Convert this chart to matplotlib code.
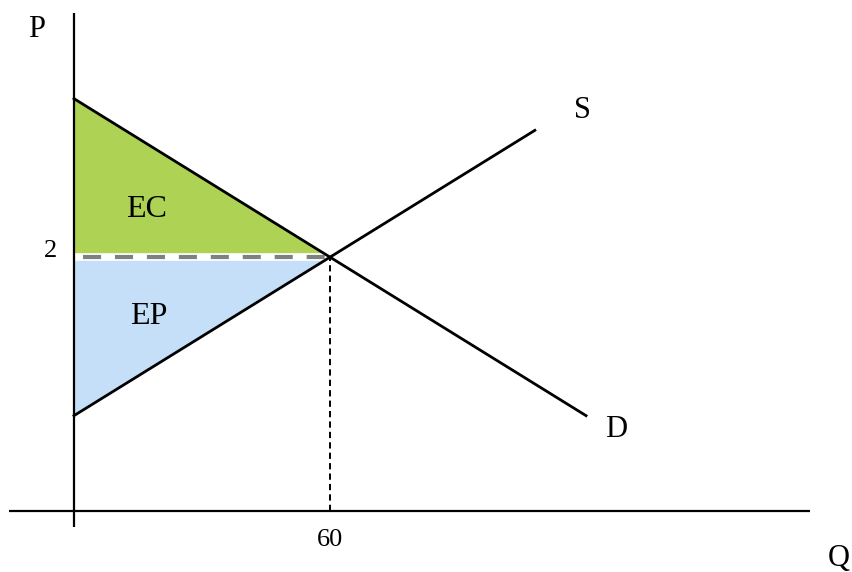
import matplotlib
matplotlib.use("Agg")
import matplotlib.pyplot as plt

plt.rcParams['font.family'] = ['Liberation Serif', 'DejaVu Serif']
plt.rcParams['lines.scale_dashes'] = False

# Data
demand_q = [0, 60, 120]
demand_p = [3.25, 2.0, 0.75]
supply_q = [0, 60, 108]
supply_p = [0.75, 2.0, 3.0]
eq_q = 60
eq_p = 2.0
tick_q_label = "60"
tick_p_label = "2"

fig = plt.figure(figsize=(8.53, 5.72), dpi=100)
ax = fig.add_axes([0, 0, 1, 1])
ax.set_xlim(-17.34, 182.56)
ax.set_ylim(-0.483, 4.028)
ax.axis('off')

# Axes lines
ax.plot([-15.2, 172.5], [0, 0], color='black', lw=1.6, solid_capstyle='butt', zorder=3)
ax.plot([0, 0], [-0.129, 3.925], color='black', lw=1.6, solid_capstyle='butt', zorder=3)

# Surplus areas
ax.fill([0, eq_q, 0], [demand_p[0], eq_p, eq_p], color='#AED354', lw=0, zorder=1)
ax.fill([0, eq_q, 0], [supply_p[0], eq_p, eq_p], color='#C6DFF8', lw=0, zorder=1)

# White gap and gray dashed price line
ax.plot([0, eq_q], [eq_p, eq_p], color='white', lw=5.5, solid_capstyle='butt', zorder=2)
ax.plot([0, eq_q], [eq_p, eq_p], color='#808080', lw=3, linestyle=(16.5, (13, 10)),
        solid_capstyle='butt', dash_capstyle='butt', zorder=2)

# Vertical dashed line
ax.plot([eq_q, eq_q], [0, eq_p], color='black', lw=1.4, dashes=(4.5, 3), zorder=2)

# Demand and supply
ax.plot(demand_q, demand_p, color='black', lw=2.0, zorder=4)
ax.plot(supply_q, supply_p, color='black', lw=2.0, zorder=4)

# Labels
ax.text(-8.67, 3.736, "P", fontsize=22, ha='center', va='baseline')
ax.text(179.3, -0.435, "Q", fontsize=22, ha='center', va='baseline')
ax.text(119.05, 3.097, "S", fontsize=22, ha='center', va='baseline')
ax.text(127.0, 0.581, "D", fontsize=22, ha='center', va='baseline')
ax.text(17.1, 2.316, "EC", fontsize=23, ha='center', va='baseline', zorder=5)
ax.text(17.6, 1.472, "EP", fontsize=23, ha='center', va='baseline', zorder=5)
ax.text(-5.39, eq_p, tick_p_label, fontsize=19, ha='center', va='baseline')
ax.text(eq_q, -0.278, tick_q_label, fontsize=19, ha='center', va='baseline')

fig.savefig("out.png", dpi=100)
